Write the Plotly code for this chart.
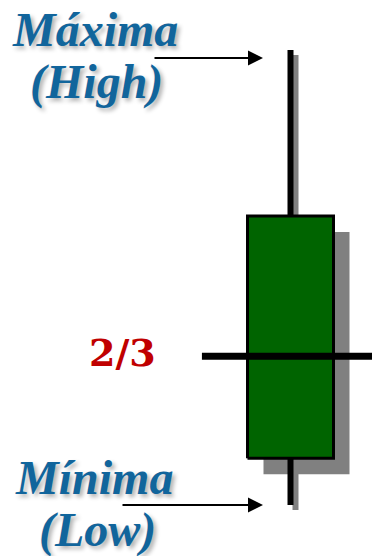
import plotly.graph_objects as go

# Candle values (price units)
high = [100.0]
close = [63.5]
open_ = [10.3]
low = [0.0]
level = [32.7]

labels_high = ["Máxima", "(High)"]
labels_low = ["Mínima", "(Low)"]
level_label = "2/3"

W, H = 372, 556
PX_X, PX_Y = 43.0, 4.55
CX, LOW_PX = 290.5, 505.0
x_range = [-CX / PX_X, (W - CX) / PX_X]
y_range = [-(H - LOW_PX) / PX_Y, LOW_PX / PX_Y]

BLUE = "#11659c"
RED = "#c00000"
GREEN = "#006400"
GRAY = "#808080"

half = 1.0
sx, sy = 16 / PX_X, 16 / PX_Y   # body shadow offset
wx, wy = 5 / PX_X, 5 / PX_Y     # wick shadow offset

fig = go.Figure()

# body shadow
fig.add_trace(go.Scatter(
    x=[-half + sx, half + sx, half + sx, -half + sx, -half + sx],
    y=[open_[0] - sy, open_[0] - sy, close[0] - sy, close[0] - sy, open_[0] - sy],
    fill="toself", fillcolor=GRAY, line=dict(width=0), mode="lines",
    hoverinfo="skip"))

# wick shadows
fig.add_trace(go.Scatter(
    x=[wx, wx, None, wx, wx],
    y=[high[0] - wy, close[0], None, open_[0], low[0] - wy],
    mode="lines", line=dict(color=GRAY, width=6), hoverinfo="skip"))

# wicks
fig.add_trace(go.Scatter(
    x=[0, 0, None, 0, 0],
    y=[high[0], close[0], None, open_[0], low[0]],
    mode="lines", line=dict(color="black", width=6), hoverinfo="skip"))

# body
fig.add_trace(go.Scatter(
    x=[-half, half, half, -half, -half],
    y=[open_[0], open_[0], close[0], close[0], open_[0]],
    fill="toself", fillcolor=GREEN, line=dict(color="black", width=3),
    mode="lines", hoverinfo="skip"))

# 2/3 level line
fig.add_trace(go.Scatter(
    x=[-2.06, x_range[1] + 0.5], y=[level[0], level[0]],
    mode="lines", line=dict(color="black", width=7), hoverinfo="skip"))

text_font = dict(family="Liberation Serif", size=48, color=BLUE,
                 weight="bold", style="italic",
                 shadow="3px 3px 4px rgba(0,0,0,0.3)")


def px_paper(px, py):
    return px / W, 1 - py / H


for txt, (px, py) in zip(labels_high + labels_low,
                         [(95, 29.5), (96, 82), (94, 477), (97, 530)]):
    xp, yp = px_paper(px, py)
    fig.add_annotation(x=xp, y=yp, xref="paper", yref="paper", text=txt,
                       showarrow=False, xanchor="center", yanchor="middle",
                       font=text_font)

xp, yp = px_paper(122, 352)
fig.add_annotation(x=xp, y=yp, xref="paper", yref="paper", text=level_label,
                   showarrow=False, xanchor="center", yanchor="middle",
                   font=dict(family="DejaVu Serif", size=38, color=RED,
                             weight="bold"))

# arrows pointing at high and low
tip_x = (263 - CX) / PX_X
for y_tip, length in [(high[0] - 8 / PX_Y, 110), (low[0], 142)]:
    fig.add_annotation(x=tip_x, y=y_tip, xref="x", yref="y", text="",
                       showarrow=True, ax=-length, ay=0,
                       arrowhead=2, arrowsize=1.5, arrowwidth=2,
                       arrowcolor="black")

fig.update_layout(
    width=W, height=H,
    margin=dict(l=0, r=0, t=0, b=0),
    paper_bgcolor="white", plot_bgcolor="white",
    showlegend=False,
    xaxis=dict(range=x_range, visible=False, fixedrange=True),
    yaxis=dict(range=y_range, visible=False, fixedrange=True),
)

# drop the default page margin so the figure fills the window
fig.write_html("out.html",
               config={"displayModeBar": False},
               post_script="document.body.style.margin='0';"
                           "document.body.style.overflow='hidden';")
